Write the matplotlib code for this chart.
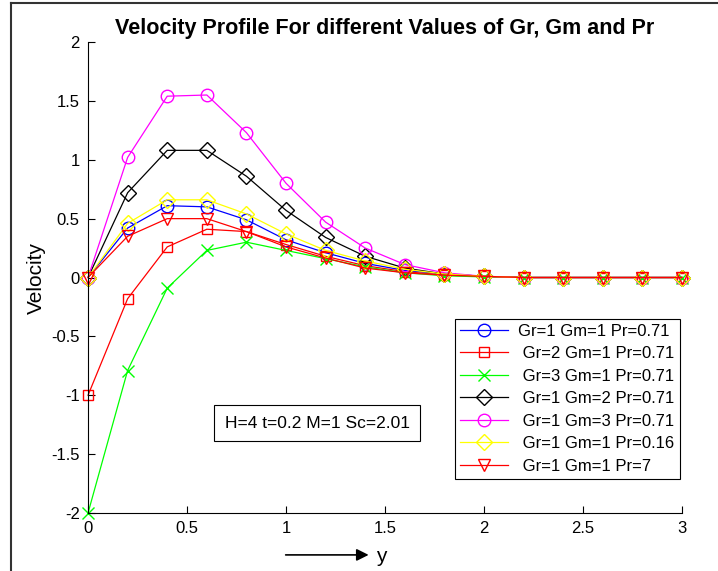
import numpy as np
import matplotlib.pyplot as plt
from matplotlib.lines import Line2D

plt.rcParams['font.family'] = ['Liberation Sans', 'DejaVu Sans']

# distance from plate
y = [0, 0.2, 0.4, 0.6, 0.8, 1.0, 1.2, 1.4, 1.6, 1.8, 2.0, 2.2, 2.4, 2.6, 2.8, 3.0]

# velocity profiles
u_gr1_gm1 = [0, 0.42, 0.61, 0.60, 0.49, 0.32, 0.21, 0.12, 0.06, 0.03, 0.01, 0, 0, 0, 0, 0]
u_gr2_gm1 = [-1.0, -0.18, 0.26, 0.41, 0.39, 0.28, 0.18, 0.10, 0.05, 0.02, 0.01, 0, 0, 0, 0, 0]
u_gr3_gm1 = [-2.0, -0.79, -0.09, 0.23, 0.30, 0.23, 0.16, 0.09, 0.04, 0.015, 0.005, 0, 0, 0, 0, 0]
u_gr1_gm2 = [0, 0.72, 1.08, 1.08, 0.86, 0.57, 0.34, 0.18, 0.08, 0.03, 0.01, 0, 0, 0, 0, 0]
u_gr1_gm3 = [0, 1.02, 1.54, 1.55, 1.23, 0.80, 0.47, 0.25, 0.11, 0.04, 0.01, 0, 0, 0, 0, 0]
u_pr016 = [0, 0.46, 0.66, 0.66, 0.54, 0.37, 0.23, 0.14, 0.07, 0.03, 0.01, 0, 0, 0, 0, 0]
u_pr7 = [0, 0.35, 0.50, 0.50, 0.39, 0.26, 0.165, 0.08, 0.04, 0.02, 0.01, 0, 0, 0, 0, 0]

labels = ['Gr=1 Gm=1 Pr=0.71', ' Gr=2 Gm=1 Pr=0.71', ' Gr=3 Gm=1 Pr=0.71',
          ' Gr=1 Gm=2 Pr=0.71', ' Gr=1 Gm=3 Pr=0.71', ' Gr=1 Gm=1 Pr=0.16',
          ' Gr=1 Gm=1 Pr=7']
series = [u_gr1_gm1, u_gr2_gm1, u_gr3_gm1, u_gr1_gm2, u_gr1_gm3, u_pr016, u_pr7]
colors = ['#0000ff', '#ff0000', '#00ff00', '#000000', '#ff00ff', '#ffff00', '#ff0000']
markers = ['o', 's', 'x', 'D', 'o', 'D', 'v']
msizes = [9, 7, 8, 8, 9, 8, 9]

fig = plt.figure(figsize=(7.18, 5.71), dpi=100)
ax = fig.add_axes([0.1226, 0.1016, 0.8274, 0.8248])

for u, c, m, ms, lab in zip(series, colors, markers, msizes, labels):
    ax.plot(y, u, color=c, marker=m, markersize=ms, markerfacecolor='none',
            markeredgewidth=1.0, linewidth=0.9, label=lab, clip_on=False)

ax.set_xlim(0, 3)
ax.set_ylim(-2, 2)
ax.set_xticks([0, 0.5, 1, 1.5, 2, 2.5, 3])
ax.set_xticklabels(['0', '0.5', '1', '1.5', '2', '2.5', '3'])
ax.set_yticks([-2, -1.5, -1, -0.5, 0, 0.5, 1, 1.5, 2])
ax.set_yticklabels(['-2', '-1.5', '-1', '-0.5', '0', '0.5', '1', '1.5', '2'])
ax.tick_params(direction='in', labelsize=12, length=5, width=0.8, pad=6)
ax.spines['top'].set_visible(False)
ax.spines['right'].set_visible(False)
for s in ['left', 'bottom']:
    ax.spines[s].set_linewidth(0.8)

ax.set_title('Velocity Profile For different Values of Gr, Gm and Pr',
             fontsize=15.5, fontweight='bold', pad=6)
ax.set_ylabel('Velocity', fontsize=15, labelpad=4)

# x label with arrow
ax.annotate('', xy=(0.477, -0.089), xytext=(0.328, -0.089), xycoords='axes fraction',
            arrowprops=dict(arrowstyle='-|>', color='black', lw=1.2, mutation_scale=18),
            annotation_clip=False)
ax.text(0.485, -0.092, 'y', transform=ax.transAxes, fontsize=15, va='center', ha='left')

ax.text(1.157, -1.236, 'H=4 t=0.2 M=1 Sc=2.01', fontsize=12.5, ha='center', va='center',
        bbox=dict(boxstyle='square,pad=0.6', facecolor='white', edgecolor='black', linewidth=0.8))

leg = ax.legend(loc='lower right', bbox_to_anchor=(1.01, 0.055), fontsize=12,
                fancybox=False, framealpha=1, edgecolor='black', handlelength=2.9,
                borderpad=0.3, labelspacing=0.45, handletextpad=0.6)
leg.get_frame().set_linewidth(0.8)

# figure border (left and top)
fig.add_artist(Line2D([11 / 718, 11 / 718], [0, 1 - 3 / 571], color='#333333', lw=1.5))
fig.add_artist(Line2D([11 / 718, 1], [1 - 3 / 571, 1 - 3 / 571], color='#333333', lw=1.5))

fig.savefig('out.png', dpi=100)
